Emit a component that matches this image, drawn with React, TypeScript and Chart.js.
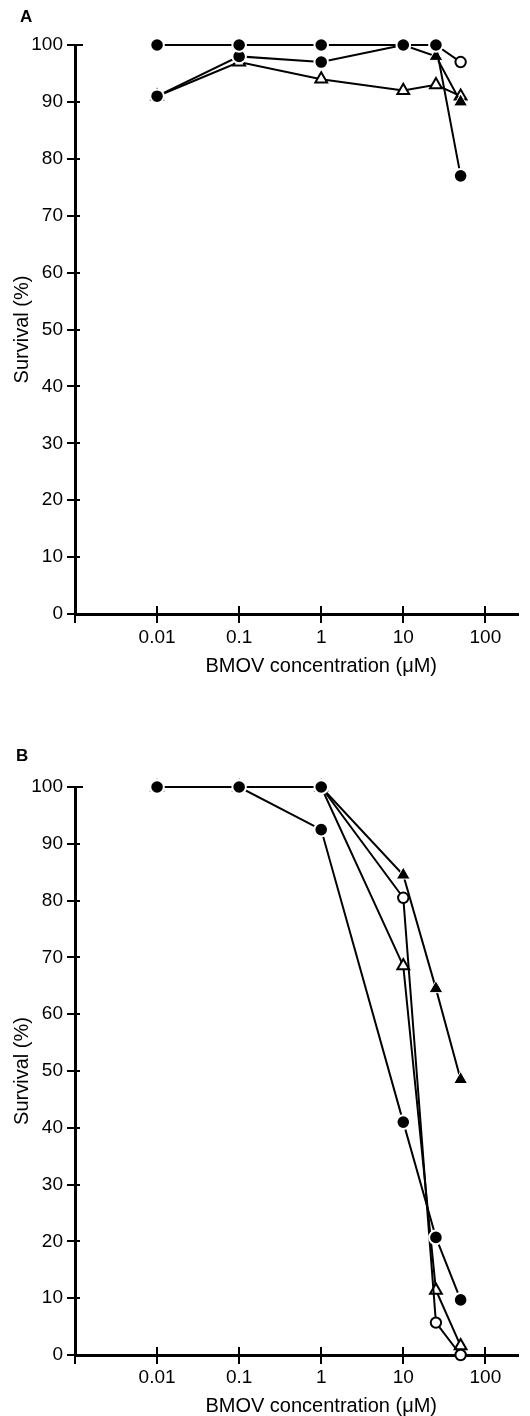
import React, { useEffect, useRef } from "react";
import { Chart, registerables } from "chart.js";

Chart.register(...registerables);

// ---------- data ----------
const concentrations = [0.01, 0.1, 1, 10, 25, 50];
const xTickValues = [0.001, 0.01, 0.1, 1, 10, 100];
const xTickLabels = ["", "0.01", "0.1", "1", "10", "100"];
const yTickValues = [0, 10, 20, 30, 40, 50, 60, 70, 80, 90, 100];
const xTitle = "BMOV concentration (μM)";
const yTitle = "Survival (%)";

// Panel A
const aFilledCircle1 = [100, 100, 100, 100, 100, 77];
const aFilledCircle2 = [91, 98, 97, 100, null, null];
const aFilledTriangle = [100, 100, 100, 100, 98, 90];
const aOpenCircle = [100, 100, 100, 100, 100, 97];
const aOpenTriangle = [91, 97, 94, 92, 93, 91];

// Panel B
const bFilledCircleTop = [100, 100, 100, null, null, null];
const bFilledCircle = [100, 100, 92.5, 41, 20.7, 9.7];
const bFilledTriangle = [100, 100, 100, 84.5, 64.5, 48.5];
const bOpenCircle = [100, 100, 100, 80.5, 5.7, 0];
const bOpenTriangle = [100, 100, 100, 68.5, 11.4, 1.6];

const FONT = "'Liberation Sans', Arial, Helvetica, sans-serif";

type Kind = "filledCircle" | "openCircle" | "filledTriangle" | "openTriangle";

function markerStyle(kind: Kind) {
  switch (kind) {
    case "filledCircle":
      return { pointStyle: "circle", pointRadius: 6.8, pointBackgroundColor: "#000", pointBorderColor: "#fff", pointBorderWidth: 2 };
    case "openCircle":
      return { pointStyle: "circle", pointRadius: 5.2, pointBackgroundColor: "#fff", pointBorderColor: "#000", pointBorderWidth: 2 };
    case "filledTriangle":
      return { pointStyle: "triangle", pointRadius: 8, pointBackgroundColor: "#000", pointBorderColor: "#fff", pointBorderWidth: 1 };
    case "openTriangle":
    default:
      return { pointStyle: "triangle", pointRadius: 6.8, pointBackgroundColor: "#fff", pointBorderColor: "#000", pointBorderWidth: 2 };
  }
}

function makeDataset(values: (number | null)[], kind: Kind) {
  const data: { x: number; y: number }[] = [];
  values.forEach((v, i) => {
    if (v !== null && v !== undefined) data.push({ x: concentrations[i], y: v });
  });
  return {
    data,
    borderColor: "#000",
    borderWidth: 2,
    tension: 0,
    clip: false as any,
    ...markerStyle(kind),
  };
}

const crossTicks = {
  id: "crossTicks",
  afterDatasetsDraw(chart: any, _args: any, opts: any) {
    const { ctx, chartArea } = chart;
    const xs = chart.scales.x;
    const ys = chart.scales.y;
    ctx.save();
    ctx.strokeStyle = "#000";
    ctx.lineWidth = 2;
    ctx.beginPath();
    yTickValues.forEach((v) => {
      const py = Math.round(ys.getPixelForValue(v));
      ctx.moveTo(chartArea.left - 8, py);
      ctx.lineTo(chartArea.left + (v === 100 ? 8 : 5), py);
    });
    xTickValues.forEach((v) => {
      const px = Math.round(xs.getPixelForValue(v));
      ctx.moveTo(px, chartArea.bottom - (v === xTickValues[0] ? 0 : 8));
      ctx.lineTo(px, chartArea.bottom + 9);
    });
    ctx.stroke();
    // x-axis title, centred under the "1" tick as in the original figure
    ctx.fillStyle = "#000";
    ctx.font = `20px ${FONT}`;
    ctx.textAlign = "center";
    ctx.textBaseline = "middle";
    ctx.fillText(xTitle, xs.getPixelForValue(1), opts.titleY);
    ctx.restore();
  },
};

function makeConfig(datasets: any[], areaTop: number, xHeight: number, labelPad: number, titleY: number) {
  return {
    type: "line" as const,
    data: { datasets },
    options: {
      responsive: false,
      animation: false as const,
      events: [],
      layout: { padding: { top: areaTop, right: 12, left: 0, bottom: 0 } },
      plugins: {
        legend: { display: false },
        tooltip: { enabled: false },
        crossTicks: { titleY },
      },
      scales: {
        x: {
          type: "logarithmic" as const,
          min: 0.001,
          max: 250,
          afterBuildTicks: (s: any) => {
            s.ticks = xTickValues.map((v) => ({ value: v }));
          },
          afterFit: (s: any) => {
            s.height = xHeight;
          },
          grid: { display: false, drawTicks: false },
          border: { display: true, color: "#000", width: 3 },
          ticks: {
            autoSkip: false,
            maxRotation: 0,
            padding: labelPad,
            color: "#000",
            font: { family: FONT, size: 19 },
            callback: (_v: any, i: number) => xTickLabels[i],
          },
          title: { display: false },
        },
        y: {
          type: "linear" as const,
          min: 0,
          max: 100,
          afterBuildTicks: (s: any) => {
            s.ticks = yTickValues.map((v) => ({ value: v }));
          },
          afterFit: (s: any) => {
            s.width = 75;
          },
          grid: { display: false, drawTicks: false },
          border: { display: true, color: "#000", width: 3 },
          ticks: {
            padding: 12,
            color: "#000",
            font: { family: FONT, size: 19 },
            callback: (v: any) => String(v),
          },
          title: {
            display: true,
            text: yTitle,
            color: "#000",
            font: { family: FONT, size: 20, lineHeight: 1 },
            padding: { top: 12, bottom: 0 },
          },
        },
      },
    },
    plugins: [crossTicks],
  };
}

export default function App() {
  const refA = useRef<HTMLCanvasElement | null>(null);
  const refB = useRef<HTMLCanvasElement | null>(null);

  useEffect(() => {
    const dsA = [
      makeDataset(aFilledCircle1, "filledCircle"),
      makeDataset(aFilledCircle2, "filledCircle"),
      makeDataset(aFilledTriangle, "filledTriangle"),
      makeDataset(aOpenCircle, "openCircle"),
      makeDataset(aOpenTriangle, "openTriangle"),
    ];
    const dsB = [
      makeDataset(bFilledCircleTop, "filledCircle"),
      makeDataset(bFilledCircle, "filledCircle"),
      makeDataset(bFilledTriangle, "filledTriangle"),
      makeDataset(bOpenCircle, "openCircle"),
      makeDataset(bOpenTriangle, "openTriangle"),
    ];
    const chartA = new Chart(refA.current as HTMLCanvasElement, makeConfig(dsA, 45, 86, 12, 666) as any);
    const chartB = new Chart(refB.current as HTMLCanvasElement, makeConfig(dsB, 87, 61, 11, 706) as any);
    return () => {
      chartA.destroy();
      chartB.destroy();
    };
  }, []);

  const letter: React.CSSProperties = {
    position: "absolute",
    fontFamily: FONT,
    fontWeight: "bold",
    fontSize: 17,
    lineHeight: "17px",
    color: "#000",
  };

  return (
    <div style={{ position: "absolute", left: 0, top: 0, width: 530, height: 1416, background: "#fff", overflow: "hidden" }}>
      <canvas ref={refA} width={530} height={700} style={{ position: "absolute", left: 0, top: 0, width: 530, height: 700 }} />
      <canvas ref={refB} width={530} height={716} style={{ position: "absolute", left: 0, top: 700, width: 530, height: 716 }} />
      <div style={{ ...letter, left: 20, top: 8 }}>A</div>
      <div style={{ ...letter, left: 16, top: 747 }}>B</div>
    </div>
  );
}
